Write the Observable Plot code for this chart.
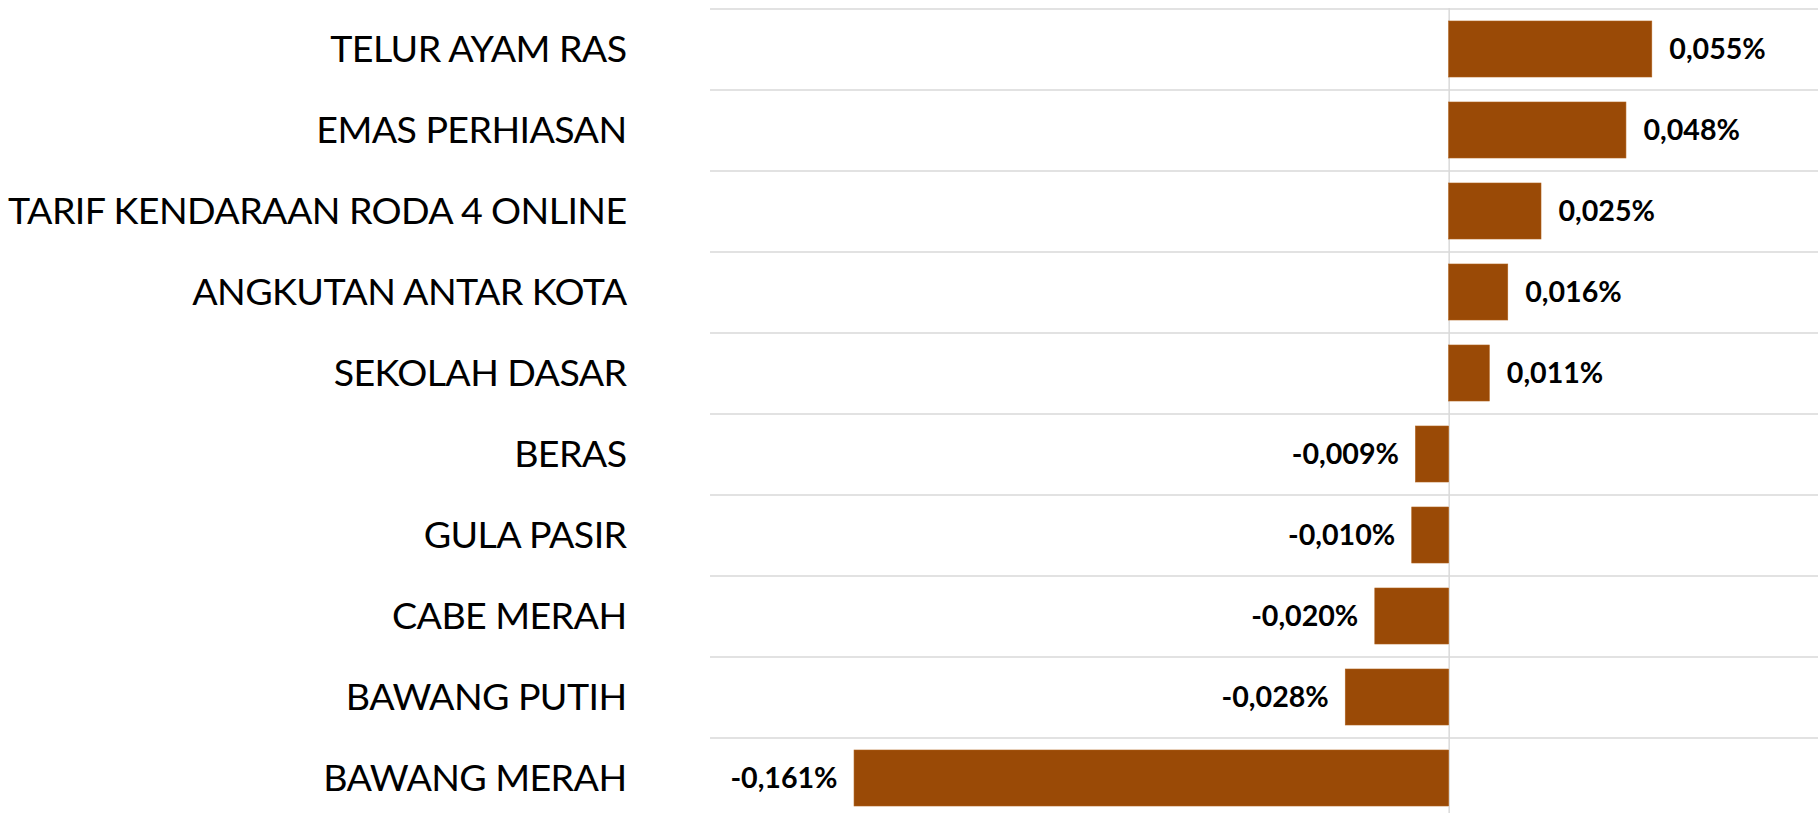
<!DOCTYPE html>
<html>
<head>
<meta charset="utf-8">
<script src="https://cdn.jsdelivr.net/npm/d3@7"></script>
<script src="https://cdn.jsdelivr.net/npm/@observablehq/plot@0.6"></script>
<style>
  html, body { margin: 0; padding: 0; background: #fff; }
  svg { display: block; }
  g[aria-label="y-axis tick label"] text { letter-spacing: -0.6px; }
</style>
</head>
<body>
<div id="chart"></div>
<script>
const categories = [
  "TELUR AYAM RAS",
  "EMAS PERHIASAN",
  "TARIF KENDARAAN RODA 4 ONLINE",
  "ANGKUTAN ANTAR KOTA",
  "SEKOLAH DASAR",
  "BERAS",
  "GULA PASIR",
  "CABE MERAH",
  "BAWANG PUTIH",
  "BAWANG MERAH"
];
const values = [0.055, 0.048, 0.025, 0.016, 0.011, -0.009, -0.010, -0.020, -0.028, -0.161];

const data = categories.map((c, i) => ({category: c, value: values[i]}));
const fmt = v => d3.format(".3f")(v).replace("\u2212", "-").replace(".", ",") + "%";

const yRange = [8.3, 818.3];
const step = (yRange[1] - yRange[0]) / categories.length;
const barColor = "#9a4a06";
const gridColor = "#d9d9d9";

const chart = Plot.plot({
  width: 1820,
  height: 813,
  marginLeft: 710,
  marginRight: 2,
  marginTop: 8,
  marginBottom: 0,
  style: {fontFamily: "Lato, 'Open Sans', sans-serif", background: "#fff"},
  x: {domain: [-0.2, 0.1], axis: null},
  y: {domain: categories, range: yRange, paddingInner: 0.31, paddingOuter: 0.155, label: null},
  marks: [
    Plot.ruleY(categories, {y: d => d, dy: -step / 2, stroke: gridColor, strokeWidth: 1.5}),
    Plot.ruleX([0], {stroke: gridColor, strokeWidth: 1.5}),
    Plot.barX(data, {x: "value", y: "category", fill: barColor, stroke: "#b0601a", strokeWidth: 0.6}),
    Plot.text(data.filter(d => d.value >= 0), {
      x: "value", y: "category", text: d => fmt(d.value), dx: 17, textAnchor: "start",
      fontSize: 28.6, fontWeight: "bold", fill: "#000"
    }),
    Plot.text(data.filter(d => d.value < 0), {
      x: "value", y: "category", text: d => fmt(d.value), dx: -17, textAnchor: "end",
      fontSize: 28.6, fontWeight: "bold", fill: "#000"
    }),
    Plot.axisY({tickSize: 0, tickPadding: 84, fontSize: 37.6, fill: "#000", label: null})
  ]
});
document.getElementById("chart").appendChild(chart);
</script>
</body>
</html>
